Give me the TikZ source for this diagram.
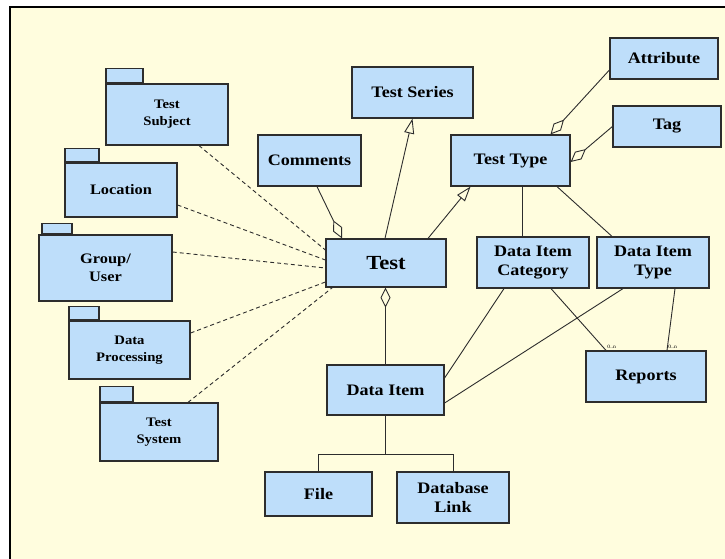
\documentclass[tikz,border=0pt]{standalone}
\usepackage{fontspec}
\setmainfont{Liberation Serif}[FakeStretch=1.13]
\usetikzlibrary{arrows.meta}
\definecolor{paper}{RGB}{255,253,222}
\definecolor{boxblue}{RGB}{190,222,250}
\definecolor{edge}{RGB}{45,45,45}
\begin{document}
\begin{tikzpicture}[x=1pt,y=-1pt,
  box/.style={draw=edge,line width=1.2pt,fill=boxblue,inner sep=0pt,align=center,
    font=\bfseries\fontsize{16}{19}\selectfont},
  pkg/.style={box,font=\bfseries\fontsize{13}{17}\selectfont},
  tabbox/.style={draw=edge,line width=1.2pt,fill=boxblue,inner sep=0pt,anchor=south west,minimum height=14},
  link/.style={draw=edge,line width=0.9pt},
  dep/.style={link,dash pattern=on 4pt off 3pt},
  agg/.style={link,-{Diamond[open,length=20pt,width=10pt]}},
  gen/.style={link,-{Triangle[open,length=15pt,width=10pt]}},
  mult/.style={font=\fontsize{5}{5}\selectfont,inner sep=1pt,anchor=south west}]
  \useasboundingbox (0,0) rectangle (725,559);
  \fill[paper] (10,7) rectangle (725,559);
  \draw[line width=1.8pt,black] (10,559)--(10,7)--(725,7);
  % packages on the left
  \node[pkg,minimum width=122,minimum height=61] (tsubj) at (167,114.5) {Test\\Subject};
  \node[tabbox,minimum width=37] (tsubjtab) at (tsubj.north west) {};
  \node[pkg,minimum width=112,minimum height=54,font=\bfseries\fontsize{14.5}{18}\selectfont] (loc) at (121,190) {Location};
  \node[tabbox,minimum width=34,minimum height=13] (loctab) at (loc.north west) {};
  \node[pkg,minimum width=133,minimum height=66,font=\bfseries\fontsize{14.5}{18}\selectfont] (grp) at (105.5,268) {Group/\\User};
  \node[tabbox,minimum width=30,minimum height=10] (grptab) at ([xshift=3pt]grp.north west) {};
  \node[pkg,minimum width=121,minimum height=58] (dproc) at (129.5,350) {Data\\Processing};
  \node[tabbox,minimum width=30,minimum height=13] (dproctab) at (dproc.north west) {};
  \node[pkg,minimum width=118,minimum height=58] (tsys) at (159,432) {Test\\System};
  \node[tabbox,minimum width=33,minimum height=15] (tsystab) at (tsys.north west) {};
  % classes
  \node[box,minimum width=103,minimum height=51] (comments) at (309.5,160.5) {Comments};
  \node[box,minimum width=121,minimum height=51] (series) at (412.5,92.5) {Test Series};
  \node[box,minimum width=119,minimum height=51] (ttype) at (510.5,160.5) {Test Type};
  \node[box,minimum width=108,minimum height=41] (attr) at (664,58.5) {Attribute};
  \node[box,minimum width=108,minimum height=41] (tag) at (667,126.5) {Tag};
  \node[box,minimum width=120,minimum height=48,font=\bfseries\fontsize{20}{24}\selectfont] (test) at (386,263) {Test};
  \node[box,minimum width=112,minimum height=51] (dic) at (533,262.5) {Data Item\\Category};
  \node[box,minimum width=112,minimum height=51] (dit) at (653,262.5) {Data Item\\Type};
  \node[box,minimum width=117,minimum height=50] (ditem) at (385.5,390) {Data Item};
  \node[box,minimum width=120,minimum height=51] (reports) at (646,376.5) {Reports};
  \node[box,minimum width=107,minimum height=44] (file) at (318.5,494) {File};
  \node[box,minimum width=112,minimum height=51] (dblink) at (453,497.5) {Database\\Link};
  % dependencies
  \draw[dep] ([xshift=32pt]tsubj.south) -- ([yshift=13pt]test.west);
  \draw[dep] ([yshift=-15pt]loc.east) -- ([yshift=3pt]test.west);
  \draw[dep] ([yshift=16pt]grp.east) -- ([yshift=-5pt]test.west);
  \draw[dep] ([yshift=17pt]dproc.east) -- ([yshift=-19pt]test.west);
  \draw[dep] ([xshift=29pt]tsys.north) -- ([xshift=7pt]test.south west);
  % aggregation and generalisation
  \draw[agg] ([xshift=7.5pt]comments.south) -- ([xshift=-44pt]test.north);
  \draw[gen] ([xshift=-1pt]test.north) -- (series.south);
  \draw[gen] ([xshift=42pt]test.north) -- ([xshift=-40pt]ttype.south);
  \draw[agg] ([yshift=-11.5pt]attr.west) -- ([xshift=40pt]ttype.north);
  \draw[agg] (tag.west) -- ([yshift=-1.5pt]ttype.east);
  \draw[agg] (ditem.north) -- (ditem.north |- test.south);
  % associations
  \draw[link] ([xshift=11.5pt]ttype.south) -- ([xshift=-11pt]dic.north);
  \draw[link] ([xshift=46.5pt]ttype.south) -- ([xshift=-41pt]dit.north);
  \draw[link] ([xshift=-29pt]dic.south) -- ([yshift=12pt]ditem.east);
  \draw[link] ([xshift=-30pt]dit.south) -- ([yshift=-13pt]ditem.east);
  \draw[link] ([xshift=18pt]dic.south) -- ([xshift=-40pt]reports.north) node[mult] {0..n};
  \draw[link] ([xshift=22pt]dit.south) -- ([xshift=21pt]reports.north) node[mult] {0..n};
  \draw[link] (ditem.south) -- ++(0,39) coordinate (fork) -| (file.north);
  \draw[link] (fork) -| (dblink.north);
\end{tikzpicture}
\end{document}
